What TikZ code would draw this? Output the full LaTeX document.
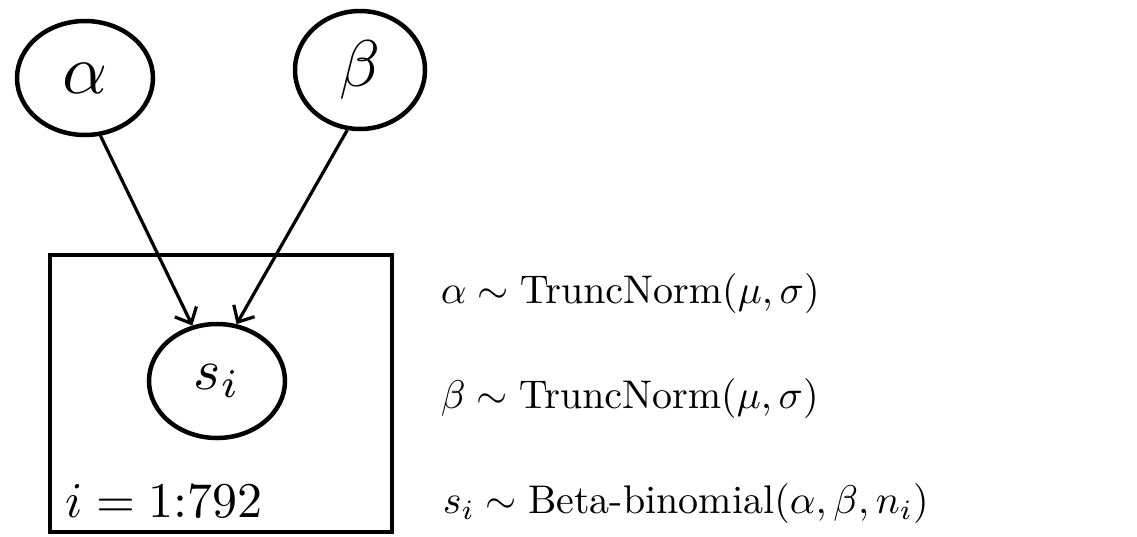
\documentclass[tikz,border=0pt]{standalone}
\usetikzlibrary{shapes.geometric,arrows.meta}
\tikzset{
  rv/.style={draw, ellipse, line width=4.5pt, inner sep=0pt},
  arr/.style={line width=3.2pt, -{Straight Barb[length=13pt,width=24pt,line width=3.2pt]}},
  eqn/.style={anchor=base west, inner sep=0pt, scale=4},
  lbl/.style={inner sep=0pt},
}
\begin{document}
\begin{tikzpicture}[x=1pt,y=-1pt]
\useasboundingbox (0,0) rectangle (1137,536);
\node[rv, minimum width=136pt, minimum height=114pt] (a) at (85,78) {};
\node[rv, minimum width=130pt, minimum height=118pt] (b) at (360,70) {};
\node[rv, minimum width=136pt, minimum height=114pt] (s) at (217,381) {};
\node[lbl, scale=7] (la) at (a.center) {$\alpha$};
\node[lbl, scale=6.6] (lb) at (b.center) {$\beta$};
\node[lbl, scale=5.8] (ls) at (s.center) {$s_i$};
\draw[line width=4.5pt] (50,255) rectangle (392,532);
\node[lbl, anchor=base west, scale=5] (plate) at (64,517) {$i = 1{:}792$};
\draw[arr] (a.-75) -- (s.114);
\draw[arr] (b.-102) -- (s.71);
\node[eqn] (e1) at (440,303) {$\alpha \sim \mathrm{TruncNorm}(\mu,\sigma)$};
\node[eqn] (e2) at (440,408) {$\beta \sim \mathrm{TruncNorm}(\mu,\sigma)$};
\node[eqn] (e3) at (442,513) {$s_i \sim \mbox{Beta-binomial}(\alpha,\beta,n_i)$};
\end{tikzpicture}
\end{document}
